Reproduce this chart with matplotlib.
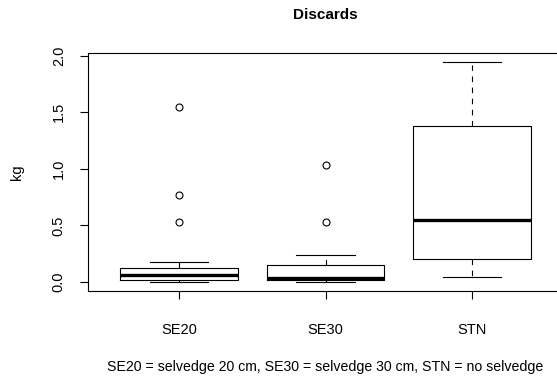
import matplotlib
matplotlib.use("Agg")
import matplotlib.pyplot as plt

plt.rcParams["font.family"] = ["Liberation Sans", "DejaVu Sans"]

# --- data -------------------------------------------------------------------
groups = ["SE20", "SE30", "STN"]
whislo = [0.00, 0.00, 0.047]
q1 = [0.02, 0.02, 0.203]
medians = [0.058, 0.032, 0.55]
q3 = [0.124, 0.15, 1.38]
whishi = [0.173, 0.241, 1.95]
fliers = [[1.545, 0.77, 0.53], [1.035, 0.53], []]
yticks = [0.0, 0.5, 1.0, 1.5, 2.0]

stats = [dict(label=g, whislo=lo, q1=a, med=m, q3=b, whishi=hi, fliers=f)
         for g, lo, a, m, b, hi, f in zip(groups, whislo, q1, medians, q3, whishi, fliers)]

W, H = 557, 377
fig = plt.figure(figsize=(W / 100, H / 100), dpi=100)
ax = fig.add_axes([88 / W, 1 - 290.7 / H, (563 - 88) / W, (290.7 - 52.7) / H])

lw = 0.8
ax.bxp(stats, positions=[1, 2, 3], widths=0.8, capwidths=0.4,
       boxprops=dict(color="black", lw=lw),
       medianprops=dict(color="black", lw=2.4, solid_capstyle="butt"),
       whiskerprops=dict(color="black", lw=lw, linestyle=(0, (5, 5))),
       capprops=dict(color="black", lw=lw),
       flierprops=dict(marker="o", markerfacecolor="none", markeredgecolor="black",
                       markersize=5, markeredgewidth=0.8))

ax.set_xlim(0.38, 3.62)
ax.set_ylim(-0.078, 2.028)
ax.set_xticks([1, 2, 3])
ax.set_xticklabels(groups, fontsize=10.5)
ax.set_yticks(yticks)
ax.set_yticklabels([f"{v:.1f}" for v in yticks], rotation=90, va="center", fontsize=10.5)
ax.tick_params(axis="both", direction="out", length=6, width=lw, color="black")
ax.tick_params(axis="x", pad=17)
ax.tick_params(axis="y", pad=10)
for s in ax.spines.values():
    s.set_linewidth(lw)

ax.set_title("Discards", fontsize=11, fontweight="bold", pad=24)
fig.text(17 / W, 1 - 172 / H, "kg", rotation=90, ha="center", va="center", fontsize=10.5)
fig.text(325 / W, 1 - 367 / H, "SE20 = selvedge 20 cm, SE30 = selvedge 30 cm, STN = no selvedge",
         ha="center", va="center", fontsize=10.2)

fig.savefig("out.png", dpi=100)
